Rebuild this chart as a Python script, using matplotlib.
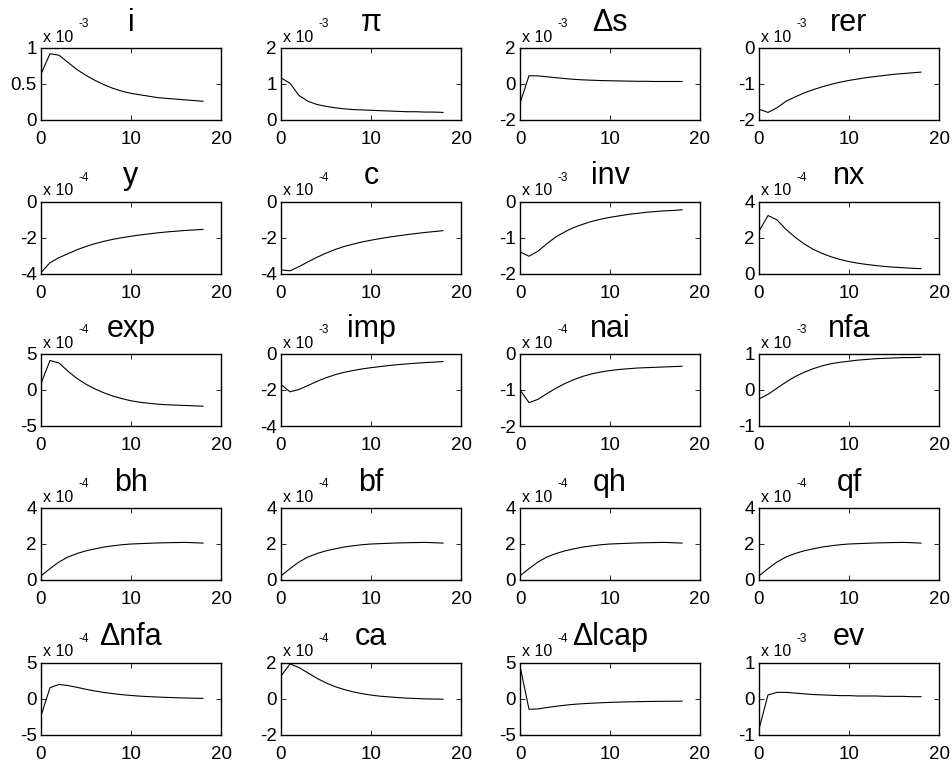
import numpy as np
import matplotlib.pyplot as plt

plt.rcParams['font.family'] = ['Liberation Sans', 'DejaVu Sans']

t = np.arange(19)

names = ["i", "\u03c0", "\u0394s", "rer",
         "y", "c", "inv", "nx",
         "exp", "imp", "nai", "nfa",
         "bh", "bf", "qh", "qf",
         "\u0394nfa", "ca", "\u0394lcap", "ev"]
expo = [-3, -3, -3, -3,
        -4, -4, -3, -4,
        -4, -3, -4, -3,
        -4, -4, -4, -4,
        -4, -4, -4, -3]
yticks = [[0, 0.5, 1], [0, 1, 2], [-2, 0, 2], [-2, -1, 0],
          [-4, -2, 0], [-4, -2, 0], [-2, -1, 0], [0, 2, 4],
          [-5, 0, 5], [-4, -2, 0], [-2, -1, 0], [-1, 0, 1],
          [0, 2, 4], [0, 2, 4], [0, 2, 4], [0, 2, 4],
          [-5, 0, 5], [-2, 0, 2], [-5, 0, 5], [-1, 0, 1]]

# impulse responses, in units of 10^expo
i_ = [0.64, 0.92, 0.90, 0.80, 0.70, 0.62, 0.55, 0.49, 0.44, 0.40, 0.37, 0.35, 0.33, 0.31, 0.30, 0.29, 0.28, 0.27, 0.26]
pi_ = [1.17, 1.02, 0.68, 0.52, 0.43, 0.38, 0.34, 0.31, 0.29, 0.28, 0.27, 0.26, 0.25, 0.24, 0.23, 0.23, 0.22, 0.22, 0.21]
ds = [-1.07, 0.46, 0.45, 0.40, 0.35, 0.30, 0.26, 0.23, 0.21, 0.19, 0.18, 0.17, 0.16, 0.15, 0.15, 0.14, 0.14, 0.14, 0.14]
rer = [-1.70, -1.79, -1.66, -1.48, -1.36, -1.25, -1.16, -1.08, -1.01, -0.95, -0.90, -0.86, -0.82, -0.79, -0.76, -0.73, -0.71, -0.69, -0.67]
y = [-3.95, -3.40, -3.12, -2.90, -2.68, -2.50, -2.34, -2.21, -2.10, -2.01, -1.93, -1.86, -1.80, -1.74, -1.69, -1.65, -1.61, -1.58, -1.55]
c = [-3.80, -3.85, -3.62, -3.35, -3.10, -2.87, -2.67, -2.50, -2.37, -2.25, -2.15, -2.06, -1.98, -1.91, -1.84, -1.78, -1.72, -1.67, -1.62]
inv = [-1.40, -1.52, -1.38, -1.17, -0.98, -0.84, -0.72, -0.63, -0.55, -0.49, -0.44, -0.40, -0.36, -0.33, -0.30, -0.28, -0.26, -0.25, -0.23]
nx = [2.35, 3.22, 2.98, 2.45, 2.02, 1.65, 1.35, 1.12, 0.93, 0.78, 0.66, 0.57, 0.50, 0.44, 0.39, 0.35, 0.32, 0.29, 0.27]
exp_ = [0.9, 4.1, 3.75, 2.6, 1.6, 0.8, 0.15, -0.4, -0.85, -1.2, -1.5, -1.7, -1.85, -1.97, -2.05, -2.1, -2.15, -2.2, -2.25]
imp = [-1.7, -2.1, -1.97, -1.75, -1.52, -1.32, -1.15, -1.02, -0.92, -0.83, -0.76, -0.70, -0.64, -0.59, -0.55, -0.51, -0.48, -0.45, -0.42]
nai = [-1.0, -1.35, -1.26, -1.10, -0.95, -0.82, -0.71, -0.62, -0.55, -0.50, -0.46, -0.43, -0.41, -0.39, -0.38, -0.37, -0.36, -0.35, -0.34]
nfa = [-0.25, -0.12, 0.05, 0.22, 0.37, 0.49, 0.59, 0.67, 0.73, 0.77, 0.80, 0.83, 0.85, 0.87, 0.88, 0.89, 0.90, 0.90, 0.91]
bh = [0.23, 0.63, 1.0, 1.28, 1.47, 1.62, 1.73, 1.83, 1.90, 1.96, 2.0, 2.02, 2.04, 2.06, 2.07, 2.08, 2.09, 2.07, 2.05]
bf = [0.23, 0.63, 1.0, 1.28, 1.47, 1.62, 1.73, 1.83, 1.90, 1.96, 2.0, 2.02, 2.04, 2.06, 2.07, 2.08, 2.09, 2.07, 2.05]
qh = [0.23, 0.63, 1.0, 1.28, 1.47, 1.62, 1.73, 1.83, 1.90, 1.96, 2.0, 2.02, 2.04, 2.06, 2.07, 2.08, 2.09, 2.07, 2.05]
qf = [0.23, 0.63, 1.0, 1.28, 1.47, 1.62, 1.73, 1.83, 1.90, 1.96, 2.0, 2.02, 2.04, 2.06, 2.07, 2.08, 2.09, 2.07, 2.05]
dnfa = [-2.4, 1.5, 1.95, 1.8, 1.55, 1.28, 1.04, 0.84, 0.67, 0.53, 0.42, 0.33, 0.26, 0.20, 0.15, 0.11, 0.07, 0.04, 0.02]
ca = [1.25, 1.92, 1.72, 1.42, 1.12, 0.87, 0.66, 0.50, 0.37, 0.27, 0.19, 0.13, 0.09, 0.05, 0.02, 0.0, -0.02, -0.03, -0.04]
dlcap = [4.5, -1.5, -1.45, -1.25, -1.08, -0.93, -0.81, -0.72, -0.65, -0.59, -0.54, -0.50, -0.47, -0.44, -0.42, -0.40, -0.39, -0.38, -0.37]
ev = [-0.85, 0.10, 0.17, 0.17, 0.15, 0.13, 0.11, 0.10, 0.09, 0.08, 0.08, 0.07, 0.07, 0.07, 0.06, 0.06, 0.06, 0.05, 0.05]

series = [i_, pi_, ds, rer, y, c, inv, nx, exp_, imp, nai, nfa,
          bh, bf, qh, qf, dnfa, ca, dlcap, ev]

W, H = 952, 767
fig = plt.figure(figsize=(W / 100, H / 100), dpi=100)

lefts = [41, 281, 520, 759]
tops = [48, 201.5, 354, 508, 662.5]
aw, ah = 180, 72

for k in range(20):
    r, col = divmod(k, 4)
    ax = fig.add_axes([lefts[col] / W, 1 - (tops[r] + ah) / H, aw / W, ah / H])
    ax.plot(t, series[k], color='black', lw=0.8)
    ax.set_xlim(0, 20)
    ax.set_ylim(yticks[k][0], yticks[k][-1])
    ax.set_xticks([0, 10, 20])
    ax.set_yticks(yticks[k])
    ax.set_yticklabels([("%g" % v) for v in yticks[k]])
    ax.tick_params(direction='in', top=True, right=True, length=3.5, width=0.6,
                   labelsize=13.5)
    ax.tick_params(axis='x', pad=8)
    ax.tick_params(axis='y', pad=3)
    for s in ax.spines.values():
        s.set_linewidth(1.0)
    ax.set_title(names[k], fontsize=22, pad=12.5)
    ax.annotate("x 10", xy=(0, 1), xycoords='axes fraction', xytext=(1.2, 4.5),
                textcoords='offset points', fontsize=11.5, va='baseline')
    ax.annotate("%d" % expo[k], xy=(0, 1), xycoords='axes fraction', xytext=(27, 15),
                textcoords='offset points', fontsize=8.5, va='baseline')

fig.savefig("out.png", dpi=100)
